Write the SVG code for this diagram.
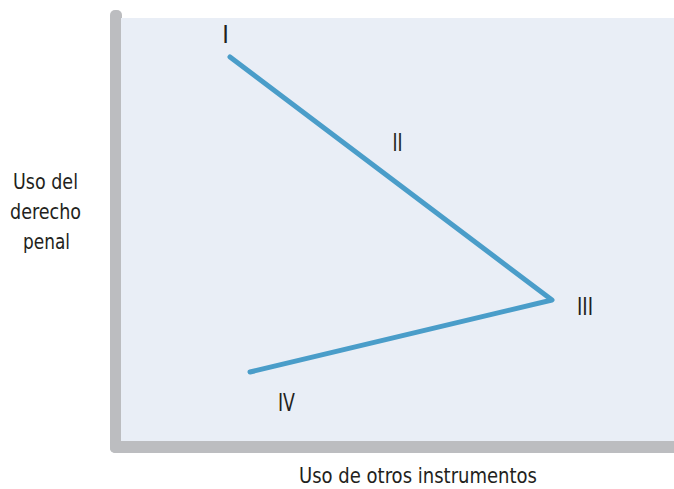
<svg xmlns="http://www.w3.org/2000/svg" width="674" height="489" viewBox="0 0 674 489">
<style>
.t{font-family:"DejaVu Sans Condensed","Liberation Sans",sans-serif;font-stretch:condensed;font-size:21px;fill:#231f20;}
.n{font-size:25px;}
.ax{fill:#bcbdc0;}
</style>
<rect width="674" height="489" fill="#ffffff"/>
<g id="axes">
<rect class="ax" x="110" y="10" width="12" height="443" rx="5"/>
<rect class="ax" x="110" y="441" width="570" height="12" rx="5"/>
<rect x="121" y="18" width="553" height="423" fill="#e9eef6"/>
</g>
<g id="connectors">
<polyline points="230,57 552,300 250,372" fill="none" stroke="#4a9dc9" stroke-width="5" stroke-linecap="round" stroke-linejoin="round"/>
</g>
<g id="node-I"><text class="t n" x="225.5" y="43" text-anchor="middle">I</text></g>
<g id="node-II"><text class="t n" x="397.5" y="151" text-anchor="middle" textLength="10" lengthAdjust="spacingAndGlyphs">II</text></g>
<g id="node-III"><text class="t n" x="585" y="315" text-anchor="middle" textLength="16" lengthAdjust="spacingAndGlyphs">III</text></g>
<g id="node-IV"><text class="t n" x="286.5" y="411" text-anchor="middle" textLength="17" lengthAdjust="spacingAndGlyphs">IV</text></g>
<g id="y-label">
<text class="t" x="45.5" y="189" text-anchor="middle" textLength="65" lengthAdjust="spacingAndGlyphs">Uso del</text>
<text class="t" x="45.5" y="219" text-anchor="middle" textLength="71" lengthAdjust="spacingAndGlyphs">derecho</text>
<text class="t" x="46.5" y="249" text-anchor="middle" textLength="47" lengthAdjust="spacingAndGlyphs">penal</text>
</g>
<g id="x-label"><text class="t" x="418" y="483" text-anchor="middle" textLength="238" lengthAdjust="spacingAndGlyphs">Uso de otros instrumentos</text></g>
</svg>
